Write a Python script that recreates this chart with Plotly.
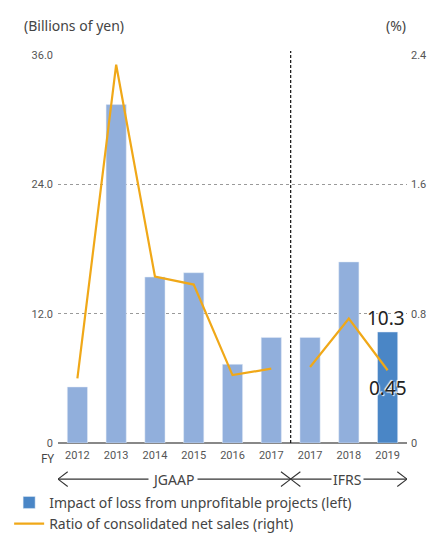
import plotly.graph_objects as go

# Fiscal-year categories (JGAAP through FY2017, then IFRS from FY2017)
fiscal_years = ["2012", "2013", "2014", "2015", "2016", "2017", "2017", "2018", "2019"]
loss_impact = [5.2, 31.4, 15.4, 15.8, 7.3, 9.8, 9.8, 16.8, 10.3]       # billions of yen
sales_ratio_jgaap = [0.40, 2.34, 1.03, 0.98, 0.42, 0.46]                 # %
sales_ratio_ifrs = [0.47, 0.77, 0.45]                                    # %
left_ticks = [0, 12, 24, 36]
left_tick_text = ["0", "12.0", "24.0", "36.0"]
right_ticks = [0, 0.8, 1.6, 2.4]
right_tick_text = ["0", "0.8", "1.6", "2.4"]

LIGHT_BLUE = "#91afdc"
DARK_BLUE = "#4a86c6"
ORANGE = "#f0a818"
TEXT = "#444444"
TICK_FONT = dict(family="Liberation Sans Narrow, Roboto, Arial", size=11, color="#555555")

xs = list(range(len(fiscal_years)))
n_jgaap = len(sales_ratio_jgaap)
bar_colors = [LIGHT_BLUE] * (len(xs) - 1) + [DARK_BLUE]

fig = go.Figure()
fig.add_trace(go.Bar(x=xs, y=loss_impact, marker_color=bar_colors, width=0.52,
                     showlegend=False, yaxis="y"))
# legend entries
fig.add_trace(go.Bar(x=[None], y=[None], marker_color=DARK_BLUE,
                     name="Impact of loss from unprofitable projects (left)"))
fig.add_trace(go.Scatter(x=xs[:n_jgaap], y=sales_ratio_jgaap, mode="lines",
                         line=dict(color=ORANGE, width=2.2), yaxis="y2",
                         name="Ratio of consolidated net sales (right)"))
fig.add_trace(go.Scatter(x=xs[n_jgaap:], y=sales_ratio_ifrs, mode="lines",
                         line=dict(color=ORANGE, width=2.2), yaxis="y2",
                         showlegend=False))

shapes = []
# JGAAP / IFRS boundary
shapes.append(dict(type="line", xref="x", yref="paper", x0=5.5, x1=5.5, y0=0, y1=1.01,
                   line=dict(color="#111111", width=1.2, dash="3px,2px")))

# period arrows below the axis
ay = -0.093
ah = 0.019
aw = 0.25
arrow_line = dict(color="#333333", width=1.1)
for x0, x1 in [(-0.5, 5.5), (5.5, 8.5)]:
    shapes.append(dict(type="line", xref="x", yref="paper", x0=x0, x1=x1, y0=ay, y1=ay,
                       line=arrow_line))
    shapes.append(dict(type="path", xref="x", yref="paper",
                       path=f"M {x0 + aw},{ay + ah} L {x0},{ay} L {x0 + aw},{ay - ah}",
                       line=arrow_line))
    shapes.append(dict(type="path", xref="x", yref="paper",
                       path=f"M {x1 - aw},{ay + ah} L {x1},{ay} L {x1 - aw},{ay - ah}",
                       line=arrow_line))

annotations = [
    dict(text="(Billions of yen)", xref="paper", yref="paper", x=-0.104, y=1.075,
         xanchor="left", yanchor="middle", showarrow=False,
         font=dict(size=14, color=TEXT, family="Noto Sans, Arial")),
    dict(text="(%)", xref="paper", yref="paper", x=1.003, y=1.075,
         xanchor="right", yanchor="middle", showarrow=False,
         font=dict(size=14, color=TEXT, family="Noto Sans, Arial")),
    dict(text="FY", xref="paper", yref="paper", x=-0.005, y=-0.039,
         xanchor="right", yanchor="middle", showarrow=False,
         font=dict(size=12, color=TEXT, family="Noto Sans, Arial")),
    dict(text="JGAAP", xref="x", yref="paper", x=2.47, y=ay, showarrow=False,
         bgcolor="white", borderpad=3, yanchor="middle",
         font=dict(size=14, color=TEXT, family="Noto Sans, Arial")),
    dict(text="IFRS", xref="x", yref="paper", x=6.96, y=ay, showarrow=False,
         bgcolor="white", borderpad=1, yanchor="middle",
         font=dict(size=14, color=TEXT, family="Noto Sans, Arial")),
    dict(text=f"{loss_impact[-1]:.1f}", xref="x", yref="y", x=xs[-1] - 0.05, y=loss_impact[-1],
         yanchor="bottom", yshift=-1, showarrow=False,
         font=dict(size=19, color="#222222", family="Noto Sans, Arial",
                   shadow="1px 1px 1px white, -1px -1px 1px white")),
    dict(text=f"{sales_ratio_ifrs[-1]:.2f}", xref="x", yref="y2", x=xs[-1], y=sales_ratio_ifrs[-1],
         yanchor="middle", yshift=-18, showarrow=False,
         font=dict(size=19, color="#222222", family="Noto Sans, Arial",
                   shadow="1px 1px 1px white, -1px -1px 1px white")),
]

fig.update_layout(
    width=440, height=534,
    margin=dict(l=57.5, r=32.5, t=55, b=91, autoexpand=False),
    paper_bgcolor="white", plot_bgcolor="white",
    bargap=0.48,
    shapes=shapes, annotations=annotations,
    xaxis=dict(range=[-0.5, 8.5], tickvals=xs, ticktext=fiscal_years, tickfont=TICK_FONT,
               showgrid=False, zeroline=False, showline=False, ticks="", fixedrange=True,
               ticklabelstandoff=4),
    yaxis=dict(range=[0, 36], tickvals=left_ticks, ticktext=left_tick_text, tickfont=TICK_FONT,
               showgrid=True, gridcolor="#9a9a9a", griddash="dot", gridwidth=1,
               zeroline=True, zerolinecolor="#888888", zerolinewidth=2,
               showline=False, ticks="", ticklabelstandoff=4),
    yaxis2=dict(range=[0, 2.4], tickvals=right_ticks, ticktext=right_tick_text, tickfont=TICK_FONT,
                overlaying="y", side="right", showgrid=False, zeroline=False,
                showline=False, ticks="", ticklabelstandoff=3),
    legend=dict(x=-0.14, y=-0.113, xanchor="left", yanchor="top", orientation="v",
                font=dict(size=14, color=TEXT, family="Noto Sans, Arial"),
                tracegroupgap=0, itemwidth=30, bgcolor="rgba(0,0,0,0)"),
)

fig.write_html("out.html")
